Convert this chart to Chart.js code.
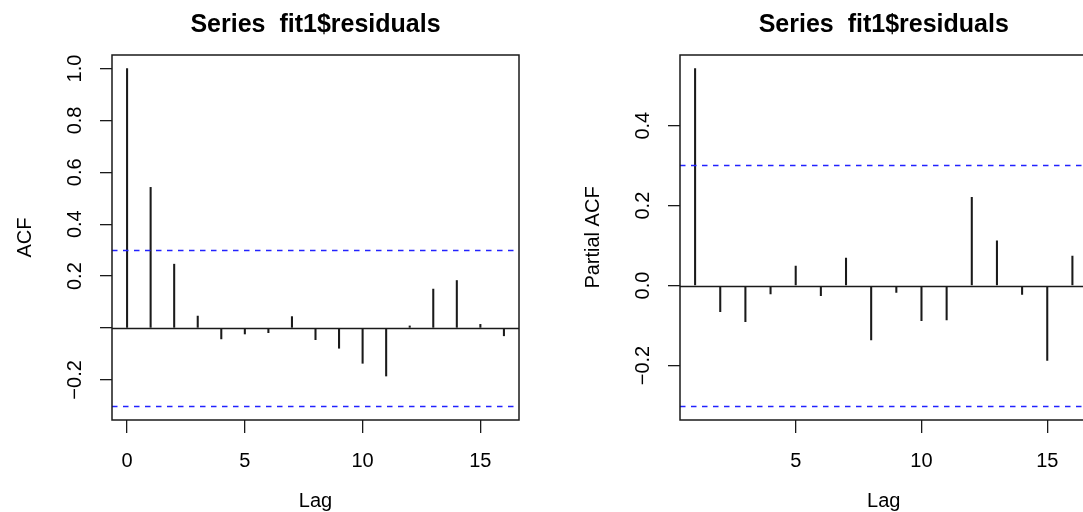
<!DOCTYPE html>
<html>
<head>
<meta charset="utf-8">
<script src="https://cdn.jsdelivr.net/npm/chart.js@4.4.1/dist/chart.umd.min.js"></script>
<style>
  html, body { margin:0; padding:0; background:#fff; overflow:hidden; }
  #wrap { position:relative; width:1083px; height:512px; overflow:hidden; }
  canvas { position:absolute; top:0; }
  #acf { left:0; }
  #pacf { left:541px; }
</style>
</head>
<body>
<div id="wrap">
  <canvas id="acf" width="541" height="512"></canvas>
  <canvas id="pacf" width="560" height="512"></canvas>
</div>
<script>
// values
const acfLags = [0, 1, 2, 3, 4, 5, 6, 7, 8, 9, 10, 11, 12, 13, 14, 15, 16];
const acfValues = [1.0, 0.542, 0.246, 0.046, -0.042, -0.023, -0.018, 0.044, -0.045,
                   -0.078, -0.136, -0.185, 0.008, 0.150, 0.183, 0.014, -0.030];
const pacfLags = [1, 2, 3, 4, 5, 6, 7, 8, 9, 10, 11, 12, 13, 14, 15, 16];
const pacfValues = [0.543, -0.065, -0.090, -0.021, 0.049, -0.025, 0.069, -0.136,
                    -0.017, -0.088, -0.086, 0.221, 0.112, -0.022, -0.187, 0.074];
const ciBound = 0.3024; // 1.96 / sqrt(n), n = 42
const xTicks = [0, 5, 10, 15];
const acfYTicks = [-0.2, 0, 0.2, 0.4, 0.6, 0.8, 1.0];
const acfYLabels = ['\u22120.2', '', '0.2', '0.4', '0.6', '0.8', '1.0'];
const pacfYTicks = [-0.2, 0, 0.2, 0.4];
const pacfYLabels = ['\u22120.2', '0.0', '0.2', '0.4'];
const titleText = 'Series  fit1$residuals';

const FONT = '"Liberation Sans", Arial, Helvetica, sans-serif';
const INK = '#1a1a1a';

// R style axis range: 4% extension
function extend(lo, hi) {
  const pad = (hi - lo) * 0.04;
  return [lo - pad, hi + pad];
}

const decor = {
  id: 'decor',
  afterDatasetsDraw(chart, args, o) {
    const { ctx, chartArea: a, scales: { y } } = chart;
    ctx.save();
    // zero line
    ctx.strokeStyle = INK;
    ctx.lineWidth = 1.3;
    ctx.beginPath();
    const y0 = Math.round(y.getPixelForValue(0)) + 0.5;
    ctx.moveTo(a.left, y0); ctx.lineTo(a.right, y0);
    ctx.stroke();
    // confidence bounds
    ctx.strokeStyle = '#2222ff';
    ctx.setLineDash([5.5, 5.5]);
    [ciBound, -ciBound].forEach(v => {
      const py = Math.round(y.getPixelForValue(v)) + 0.5;
      ctx.beginPath();
      ctx.moveTo(a.left, py); ctx.lineTo(a.right, py);
      ctx.stroke();
    });
    ctx.setLineDash([]);
    // box
    ctx.strokeStyle = INK;
    ctx.lineWidth = 1.5;
    ctx.strokeRect(a.left, a.top, a.right - a.left, a.bottom - a.top);
    ctx.restore();
  },
  afterDraw(chart, args, o) {
    const { ctx, chartArea: a, scales: { y } } = chart;
    const cx = (a.left + a.right) / 2;
    ctx.save();
    ctx.fillStyle = '#000';
    // title
    ctx.font = 'bold 25px ' + FONT;
    ctx.textAlign = 'center';
    ctx.textBaseline = 'alphabetic';
    ctx.fillText(titleText, cx, 32);
    // x title
    ctx.font = '20px ' + FONT;
    ctx.fillText('Lag', cx, 507);
    // y tick labels, rotated like R
    o.yTicks.forEach((v, i) => {
      ctx.save();
      ctx.translate(a.left - 31, y.getPixelForValue(v));
      ctx.rotate(-Math.PI / 2);
      ctx.fillText(o.yLabels[i], 0, 0);
      ctx.restore();
    });
    // y title
    ctx.save();
    ctx.translate(a.left - 81, (a.top + a.bottom) / 2);
    ctx.rotate(-Math.PI / 2);
    ctx.fillText(o.yTitle, 0, 0);
    ctx.restore();
    ctx.restore();
  }
};

function makePanel(id, lags, values, yTicks, yLabels, yTitle, leftW, padRight) {
  const [xMin, xMax] = extend(Math.min(...lags), Math.max(...lags));
  const [yMin, yMax] = extend(Math.min(...values, -ciBound), Math.max(...values, ciBound));
  return new Chart(document.getElementById(id), {
    type: 'bar',
    data: {
      datasets: [{
        data: lags.map((x, i) => ({ x, y: values[i] })),
        backgroundColor: INK,
        borderWidth: 0,
        barThickness: 1.4
      }]
    },
    options: {
      responsive: false,
      animation: false,
      devicePixelRatio: 1,
      layout: { padding: { top: 55, right: padRight, left: 0, bottom: 0 } },
      plugins: {
        legend: { display: false },
        tooltip: { enabled: false },
        decor: { yTicks, yLabels, yTitle }
      },
      scales: {
        x: {
          type: 'linear', min: xMin, max: xMax, offset: false,
          afterBuildTicks: s => {
            s.ticks = xTicks.filter(v => v >= xMin && v <= xMax).map(v => ({ value: v }));
          },
          afterFit: s => { s.height = 92; },
          grid: { offset: false, drawOnChartArea: false, tickLength: 13, color: INK, lineWidth: 1.3 },
          border: { display: false },
          ticks: { autoSkip: false, maxRotation: 0, color: '#000',
                   font: { family: FONT, size: 20 }, padding: 16 }
        },
        y: {
          type: 'linear', min: yMin, max: yMax,
          afterBuildTicks: s => { s.ticks = yTicks.map(v => ({ value: v })); },
          afterFit: s => { s.width = leftW; },
          grid: { drawOnChartArea: false, tickLength: 12, color: INK, lineWidth: 1.3 },
          border: { display: false },
          ticks: { display: false }
        }
      }
    },
    plugins: [decor]
  });
}

makePanel('acf', acfLags, acfValues, acfYTicks, acfYLabels, 'ACF', 112, 22);
makePanel('pacf', pacfLags, pacfValues, pacfYTicks, pacfYLabels, 'Partial ACF', 139, 13.5);
</script>
</body>
</html>
